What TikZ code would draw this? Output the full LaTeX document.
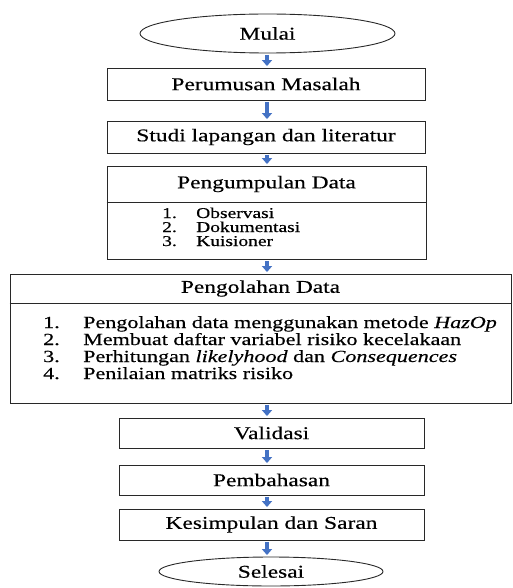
\documentclass[tikz,border=0pt]{standalone}
\usepackage{fontspec}
\setmainfont{Liberation Serif}[FakeStretch=1.3,FakeBold=0.4]
\usetikzlibrary{arrows.meta,shapes.geometric}
\definecolor{arrowblue}{RGB}{68,114,196}
\definecolor{lineclr}{RGB}{40,40,40}
\begin{document}
\begin{tikzpicture}[x=1pt,y=-1pt,
  box/.style={draw=lineclr, line width=0.9pt, rectangle, inner sep=0pt, font=\fontsize{18}{20}\selectfont},
  term/.style={draw=lineclr, line width=0.9pt, ellipse, inner sep=0pt, font=\fontsize{18}{20}\selectfont},
  head/.style={inner sep=0pt, font=\fontsize{18}{20}\selectfont},
  smallitem/.style={anchor=base west, inner sep=0pt, font=\fontsize{15}{15}\selectfont},
  bigitem/.style={anchor=base west, inner sep=0pt, font=\fontsize{17}{17}\selectfont},
  divider/.style={draw=lineclr, line width=0.9pt},
  flow/.style={draw=arrowblue, line width=3.2pt, -{Triangle[width=10pt,length=6pt]}, shorten <=1.5pt, shorten >=1.5pt}]
\useasboundingbox (0,0) rectangle (512,588);
\coordinate (axis) at (267,0);

\node[term, minimum width=255pt, minimum height=39pt] (mulai) at (267.5,33.5) {Mulai};
\node[box, minimum width=318pt, minimum height=32pt] (rumus) at (266,84) {Perumusan Masalah};
\node[box, minimum width=318pt, minimum height=32pt] (studi) at (266,137) {Studi lapangan dan literatur};

% Pengumpulan Data
\node[box, minimum width=319pt, minimum height=93pt] (kumpul) at (266.5,212.5) {};
\node[head] (kumpulH) at (266.5,184) {Pengumpulan Data};
\coordinate (kdiv) at (0,202);
\draw[divider] (kumpul.west |- kdiv) -- (kumpul.east |- kdiv);
\node[smallitem] (k1n) at (162,218) {1.};
\node[smallitem] (k1t) at (196,218) {Observasi};
\node[smallitem] (k2n) at (162,232) {2.};
\node[smallitem] (k2t) at (196,232) {Dokumentasi};
\node[smallitem] (k3n) at (162,246) {3.};
\node[smallitem] (k3t) at (196,246) {Kuisioner};

% Pengolahan Data
\node[box, minimum width=501pt, minimum height=129pt] (olah) at (260.5,338.5) {};
\node[head] (olahH) at (260.5,288.5) {Pengolahan Data};
\coordinate (odiv) at (0,303);
\draw[divider] (olah.west |- odiv) -- (olah.east |- odiv);
\node[bigitem] (o1n) at (43,328) {1.};
\node[bigitem] (o1t) at (83,328) {Pengolahan data menggunakan metode \textit{HazOp}};
\node[bigitem] (o2n) at (43,345) {2.};
\node[bigitem] (o2t) at (83,345) {Membuat daftar variabel risiko kecelakaan};
\node[bigitem] (o3n) at (43,362) {3.};
\node[bigitem] (o3t) at (83,362) {Perhitungan \textit{likelyhood} dan \textit{Consequences}};
\node[bigitem] (o4n) at (43,379) {4.};
\node[bigitem] (o4t) at (83,379) {Penilaian matriks risiko};

\node[box, minimum width=305pt, minimum height=30pt] (valid) at (271.5,433) {Validasi};
\node[box, minimum width=305pt, minimum height=30pt] (bahas) at (271.5,480) {Pembahasan};
\node[box, minimum width=305pt, minimum height=31pt] (simpul) at (271.5,524.5) {Kesimpulan dan Saran};
\node[term, minimum width=224pt, minimum height=29pt] (selesai) at (271,571.5) {Selesai};

\draw[flow] (mulai.south -| axis) -- (rumus.north -| axis);
\draw[flow] (rumus.south -| axis) -- (studi.north -| axis);
\draw[flow] (studi.south -| axis) -- (kumpul.north -| axis);
\draw[flow] (kumpul.south -| axis) -- (olah.north -| axis);
\draw[flow] (olah.south -| axis) -- (valid.north -| axis);
\draw[flow] (valid.south -| axis) -- (bahas.north -| axis);
\draw[flow] (bahas.south -| axis) -- (simpul.north -| axis);
\draw[flow] (simpul.south -| axis) -- (selesai.north -| axis);
\end{tikzpicture}
\end{document}
